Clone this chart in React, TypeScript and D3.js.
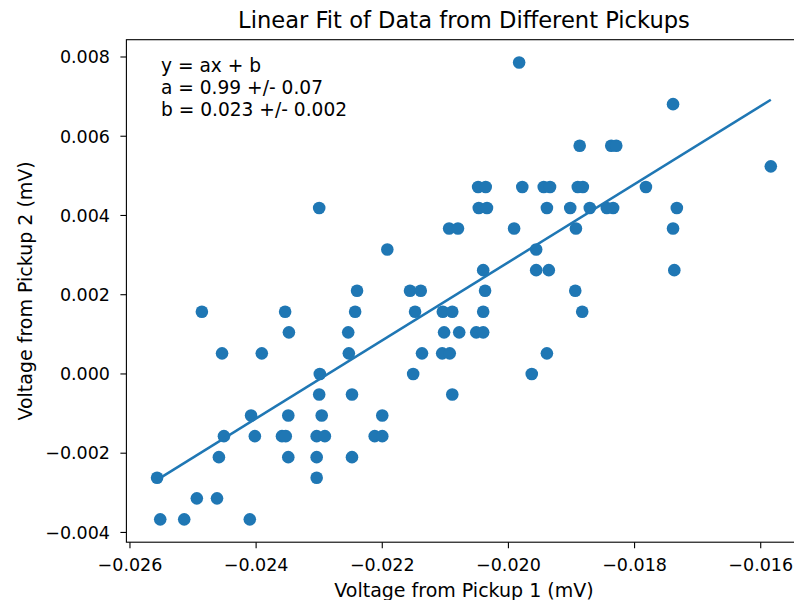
import React from "react";
import * as d3 from "d3";

// Pickup 1 readings (mV)
const pickup1: number[] = [
  -0.01983,
  -0.01739,
  -0.01887, -0.01837, -0.01829,
  -0.01584,
  -0.02048, -0.02036, -0.01978, -0.01944, -0.01934, -0.0189, -0.01882, -0.01782,
  -0.023, -0.02047, -0.02034, -0.01939, -0.01902, -0.01871, -0.01844, -0.01834, -0.01733,
  -0.02094, -0.0208, -0.01991, -0.01893, -0.01739,
  -0.02192, -0.01956,
  -0.0204, -0.01956, -0.01936, -0.01737,
  -0.0224, -0.02156, -0.02139, -0.02037, -0.01894,
  -0.02486, -0.02354, -0.02243, -0.02148, -0.02104, -0.02089, -0.0204, -0.01883,
  -0.02348, -0.02254, -0.02102, -0.02078, -0.02051, -0.0204,
  -0.02454, -0.02391, -0.02253, -0.02137, -0.02105, -0.02093, -0.01939,
  -0.02299, -0.02151, -0.01963,
  -0.023, -0.02248, -0.02089,
  -0.02408, -0.02349, -0.02296, -0.022,
  -0.02451, -0.02402, -0.02359, -0.02353, -0.02304, -0.02291, -0.02212, -0.022,
  -0.02459, -0.02349, -0.02304, -0.02248,
  -0.02557, -0.02304,
  -0.02494, -0.02462,
  -0.02552, -0.02514, -0.0241,
];

// Pickup 2 readings (mV), paired with pickup1 by index
const pickup2: number[] = [
  0.00786,
  0.00681,
  0.00576, 0.00576, 0.00576,
  0.00524,
  0.00472, 0.00472, 0.00472, 0.00472, 0.00472, 0.00472, 0.00472, 0.00472,
  0.00419, 0.00419, 0.00419, 0.00419, 0.00419, 0.00419, 0.00419, 0.00419, 0.00419,
  0.00367, 0.00367, 0.00367, 0.00367, 0.00367,
  0.00314, 0.00314,
  0.00262, 0.00262, 0.00262, 0.00262,
  0.0021, 0.0021, 0.0021, 0.0021, 0.0021,
  0.00157, 0.00157, 0.00157, 0.00157, 0.00157, 0.00157, 0.00157, 0.00157,
  0.00105, 0.00105, 0.00105, 0.00105, 0.00105, 0.00105,
  0.00052, 0.00052, 0.00052, 0.00052, 0.00052, 0.00052, 0.00052,
  0.0, 0.0, 0.0,
  -0.00052, -0.00052, -0.00052,
  -0.00105, -0.00105, -0.00105, -0.00105,
  -0.00157, -0.00157, -0.00157, -0.00157, -0.00157, -0.00157, -0.00157, -0.00157,
  -0.0021, -0.0021, -0.0021, -0.0021,
  -0.00262, -0.00262,
  -0.00314, -0.00314,
  -0.00367, -0.00367, -0.00367,
];

// Linear fit y = a x + b with uncertainties
const fitA = 0.986;
const fitAErr = 0.07;
const fitB = 0.02254;
const fitBErr = 0.002;

const xTicks: number[] = [-0.026, -0.024, -0.022, -0.02, -0.018, -0.016];
const yTicks: number[] = [-0.004, -0.002, 0.0, 0.002, 0.004, 0.006, 0.008];

const W = 794;
const H = 600;
const left = 126.4;
const right = 801.5;
const top = 39.7;
const bottom = 542.2;
const blue = "#1f77b4";
const font = "'DejaVu Sans', sans-serif";
const tickFont = 17.5;
const labelFont = 19;
const noteFont = 18.6;

const fmt = (v: number) => {
  const s = Math.abs(v).toFixed(3);
  return (v < -1e-12 ? "\u2212" : "") + s;
};

export default function App() {
  const [xMin, xMax] = d3.extent(pickup1) as [number, number];
  const [yMin, yMax] = d3.extent(pickup2) as [number, number];
  const xPad = (xMax - xMin) * 0.05;
  const yPad = (yMax - yMin) * 0.05;
  const x = d3.scaleLinear().domain([xMin - xPad, xMax + xPad]).range([left, right]);
  const y = d3.scaleLinear().domain([yMin - yPad, yMax + yPad]).range([bottom, top]);

  const fitLine = d3.line<number>()
    .x((v) => x(v))
    .y((v) => y(fitA * v + fitB));

  const points = pickup1.map((v, i) => ({ px: v, py: pickup2[i] }));

  return (
    <div style={{ position: "fixed", left: 0, top: 0, width: W, height: H, background: "#fff" }}>
      <svg width={W} height={H} viewBox={`0 0 ${W} ${H}`} style={{ display: "block" }} fontFamily={font}>
        <rect x={0} y={0} width={W} height={H} fill="#fff" />
        <text x={(left + right) / 2} y={28} textAnchor="middle" fontSize={22.6} fill="#000">
          Linear Fit of Data from Different Pickups
        </text>

        {points.map((p, i) => (
          <circle key={i} cx={x(p.px)} cy={y(p.py)} r={6.3} fill={blue} />
        ))}

        <path d={fitLine([xMin, xMax]) ?? ""} fill="none" stroke={blue} strokeWidth={2.5} />

        {/* axes frame */}
        <rect x={left} y={top} width={right - left} height={bottom - top} fill="none" stroke="#000" strokeWidth={1.1} />

        {xTicks.map((t) => (
          <g key={`x${t}`}>
            <line x1={x(t)} x2={x(t)} y1={bottom} y2={bottom + 6} stroke="#000" strokeWidth={1.1} />
            <text x={x(t)} y={571} textAnchor="middle" fontSize={tickFont} fill="#000">
              {fmt(t)}
            </text>
          </g>
        ))}
        {yTicks.map((t) => (
          <g key={`y${t}`}>
            <line x1={left - 6} x2={left} y1={y(t)} y2={y(t)} stroke="#000" strokeWidth={1.1} />
            <text x={110} y={y(t)} dy="0.36em" textAnchor="end" fontSize={tickFont} fill="#000">
              {fmt(t)}
            </text>
          </g>
        ))}

        <text x={(left + right) / 2} y={597} textAnchor="middle" fontSize={labelFont} fill="#000">
          Voltage from Pickup 1 (mV)
        </text>
        <text
          transform={`translate(31.5, ${(top + bottom) / 2}) rotate(-90)`}
          textAnchor="middle"
          fontSize={labelFont}
          fill="#000"
        >
          Voltage from Pickup 2 (mV)
        </text>

        <g fontSize={noteFont} fill="#000">
          <text x={161} y={72}>y = ax + b</text>
          <text x={161} y={94}>{`a = ${fitA.toFixed(2)} +/- ${fitAErr.toFixed(2)}`}</text>
          <text x={161} y={116}>{`b = ${fitB.toFixed(3)} +/- ${fitBErr.toFixed(3)}`}</text>
        </g>
      </svg>
    </div>
  );
}
